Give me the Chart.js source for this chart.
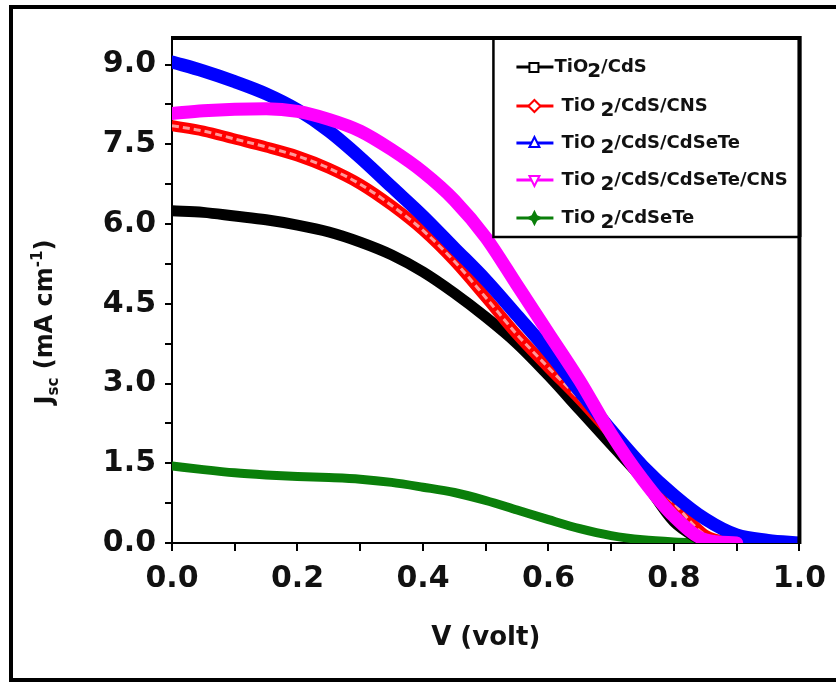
<!DOCTYPE html>
<html>
<head>
<meta charset="utf-8">
<script src="https://cdn.jsdelivr.net/npm/chart.js@4.4.1/dist/chart.umd.min.js"></script>
<style>
  html, body { margin: 0; padding: 0; background: #fff; overflow: hidden; }
  canvas { display: block; }
</style>
</head>
<body>
<canvas id="jv" width="836" height="682"></canvas>
<script>
// Applied voltage (V)
const voltage = [0.00, 0.05, 0.10, 0.15, 0.20, 0.25, 0.30, 0.35, 0.40, 0.45, 0.50,
                 0.55, 0.60, 0.65, 0.70, 0.75, 0.80, 0.85, 0.90, 0.95, 1.00];

// Current density (mA cm-1) for each photoanode
const jCdS        = [6.25, 6.22, 6.15, 6.08, 5.98, 5.85, 5.66, 5.42, 5.10, 4.70, 4.25,
                     3.75, 3.15, 2.50, 1.85, 1.20, 0.40, 0.00, null, null, null];
const jCdSCNS     = [7.85, 7.75, 7.60, 7.45, 7.28, 7.05, 6.75, 6.35, 5.88, 5.30, 4.62,
                     3.92, 3.30, 2.70, 2.05, 1.40, 0.75, 0.15, 0.00, null, null];
const jCdSCdSeTe  = [9.05, 8.88, 8.68, 8.45, 8.15, 7.75, 7.25, 6.70, 6.15, 5.55, 4.95,
                     4.28, 3.60, 2.85, 2.12, 1.45, 0.90, 0.45, 0.15, 0.05, 0.00];
const jCdSCdSeTeCNS = [8.08, 8.13, 8.16, 8.17, 8.12, 7.97, 7.75, 7.40, 6.98, 6.45, 5.75,
                     4.85, 3.95, 3.05, 2.05, 1.20, 0.50, 0.06, 0.00, null, null];
const jCdSeTe     = [1.45, 1.38, 1.32, 1.28, 1.25, 1.23, 1.20, 1.14, 1.05, 0.95, 0.80,
                     0.62, 0.44, 0.27, 0.14, 0.06, 0.02, 0.00, null, null, null];

// Legend names: [prefix, subscript, rest]
const seriesNames = [
  ['TiO', '2', '/CdS'],
  ['TiO ', '2', '/CdS/CNS'],
  ['TiO ', '2', '/CdS/CdSeTe'],
  ['TiO ', '2', '/CdS/CdSeTe/CNS'],
  ['TiO ', '2', '/CdSeTe']
];
const seriesColors = ['#000000', '#ff0000', '#0000ff', '#ff00ff', '#0a7f0a'];
const seriesMarkers = ['square', 'diamond', 'triangle', 'invTriangle', 'star'];

const xTicks = [0.0, 0.2, 0.4, 0.6, 0.8, 1.0];
const yTicks = [0.0, 1.5, 3.0, 4.5, 6.0, 7.5, 9.0];

const pts = (arr) => voltage.map((v, i) => ({ x: v, y: arr[i] }));

const FONT = "'DejaVu Sans', sans-serif";

function lineSet(label, arr, color, width, order) {
  return {
    label, data: pts(arr), borderColor: color, backgroundColor: color,
    borderWidth: width, pointRadius: 0, cubicInterpolationMode: 'monotone',
    borderCapStyle: 'round', borderJoinStyle: 'round', clip: 0, order, spanGaps: false
  };
}

const datasets = [
  lineSet('TiO2/CdS', jCdS, seriesColors[0], 11, 3),
  lineSet('TiO2/CdS/CNS', jCdSCNS, seriesColors[1], 11, 2),
  lineSet('TiO2/CdS/CdSeTe', jCdSCdSeTe, seriesColors[2], 13, 1),
  lineSet('TiO2/CdS/CdSeTe/CNS', jCdSCdSeTeCNS, seriesColors[3], 13, 0),
  lineSet('TiO2/CdSeTe', jCdSeTe, seriesColors[4], 9, 4)
];
// hollow-marker core of the CNS trace
const core = lineSet('', jCdSCNS, 'rgba(255,255,255,0.6)', 3, 1.5);
core.borderDash = [7, 4];
core.borderCapStyle = 'butt';
datasets.push(core);

function drawMarker(ctx, type, x, y, color) {
  ctx.save();
  ctx.lineWidth = 2;
  ctx.strokeStyle = color;
  ctx.fillStyle = '#fff';
  ctx.beginPath();
  const r = 5;
  if (type === 'square') {
    ctx.rect(x - r, y - r + 1, 2 * r - 1, 2 * r - 1);
  } else if (type === 'diamond') {
    ctx.moveTo(x, y - r - 1); ctx.lineTo(x + r + 1, y); ctx.lineTo(x, y + r + 1); ctx.lineTo(x - r - 1, y); ctx.closePath();
  } else if (type === 'triangle') {
    ctx.moveTo(x, y - r - 1); ctx.lineTo(x + r, y + r - 1); ctx.lineTo(x - r, y + r - 1); ctx.closePath();
  } else if (type === 'invTriangle') {
    ctx.moveTo(x, y + r + 1); ctx.lineTo(x + r, y - r + 1); ctx.lineTo(x - r, y - r + 1); ctx.closePath();
  } else {
    ctx.fillStyle = color;
    ctx.moveTo(x, y - r - 1); ctx.lineTo(x + 2, y - 2); ctx.lineTo(x + r + 1, y); ctx.lineTo(x + 2, y + 2);
    ctx.lineTo(x, y + r + 1); ctx.lineTo(x - 2, y + 2); ctx.lineTo(x - r - 1, y); ctx.lineTo(x - 2, y - 2); ctx.closePath();
  }
  ctx.fill();
  ctx.stroke();
  ctx.restore();
}

const decorations = {
  id: 'decorations',
  beforeDraw(chart) {
    const ctx = chart.ctx;
    ctx.save();
    ctx.fillStyle = '#fff';
    ctx.fillRect(0, 0, chart.width, chart.height);
    ctx.restore();
  },
  afterDraw(chart) {
    const ctx = chart.ctx;
    const a = chart.chartArea;
    ctx.save();

    // heavy top/right edges of the plot box
    ctx.strokeStyle = '#000';
    ctx.lineWidth = 4;
    ctx.beginPath();
    ctx.moveTo(a.left - 1, a.top);
    ctx.lineTo(a.right, a.top);
    ctx.lineTo(a.right, a.bottom + 1);
    ctx.stroke();

    // outer figure frame (open on the right)
    ctx.lineWidth = 4;
    ctx.beginPath();
    ctx.moveTo(chart.width + 5, 7);
    ctx.lineTo(11, 7);
    ctx.lineTo(11, 680);
    ctx.lineTo(chart.width + 5, 680);
    ctx.stroke();

    // legend box
    const lw = 306, lh = 199;
    const lx = a.right - lw, ly = a.top;
    ctx.fillStyle = '#fff';
    ctx.fillRect(lx, ly, lw, lh);
    ctx.lineWidth = 2.5;
    ctx.strokeRect(lx, ly, lw, lh);
    ctx.lineWidth = 4;
    ctx.beginPath();
    ctx.moveTo(lx, a.top); ctx.lineTo(a.right, a.top); ctx.lineTo(a.right, ly + lh);
    ctx.stroke();

    const rowY = [67, 106, 143, 180, 218].map(v => v - 38 + ly);
    seriesNames.forEach((parts, i) => {
      const y = rowY[i];
      const c = seriesColors[i];
      ctx.strokeStyle = c;
      ctx.lineWidth = 3;
      ctx.beginPath();
      ctx.moveTo(lx + 23, y); ctx.lineTo(lx + 60, y);
      ctx.stroke();
      drawMarker(ctx, seriesMarkers[i], lx + 41, y, c);

      ctx.fillStyle = '#111';
      ctx.textBaseline = 'middle';
      ctx.textAlign = 'left';
      ctx.font = 'bold 18px ' + FONT;
      let x = lx + (i === 0 ? 61 : 68);
      ctx.fillText(parts[0], x, y);
      x += ctx.measureText(parts[0]).width;
      ctx.font = 'bold 20px ' + FONT;
      ctx.fillText(parts[1], x - 1, y + 5);
      x += ctx.measureText(parts[1]).width - 1;
      ctx.font = 'bold 18px ' + FONT;
      ctx.fillText(parts[2], x, y);
    });

    // x-axis title
    ctx.fillStyle = '#111';
    ctx.font = 'bold 26px ' + FONT;
    ctx.textAlign = 'center';
    ctx.textBaseline = 'middle';
    ctx.fillText('V (volt)', (a.left + a.right) / 2, 638);

    // y-axis title, rotated, with sub/superscripts
    const segs = [
      { t: 'J', s: 24, dy: 0 },
      { t: 'sc', s: 15, dy: 6 },
      { t: ' (mA cm', s: 24, dy: 0 },
      { t: '-1', s: 15, dy: -10 },
      { t: ')', s: 24, dy: 0 }
    ];
    let total = 0;
    segs.forEach(sg => { ctx.font = 'bold ' + sg.s + 'px ' + FONT; sg.w = ctx.measureText(sg.t).width; total += sg.w; });
    ctx.translate(52, 322);
    ctx.rotate(-Math.PI / 2);
    ctx.textAlign = 'left';
    ctx.textBaseline = 'alphabetic';
    let cx = -total / 2;
    segs.forEach(sg => {
      ctx.font = 'bold ' + sg.s + 'px ' + FONT;
      ctx.fillText(sg.t, cx, sg.dy);
      cx += sg.w;
    });
    ctx.restore();
  }
};

const near = (v, list) => list.some(t => Math.abs(v - t) < 1e-6);

new Chart(document.getElementById('jv'), {
  type: 'line',
  data: { datasets },
  options: {
    responsive: false,
    animation: false,
    devicePixelRatio: 1,
    layout: { padding: { top: 38, right: 34, left: 0, bottom: 0 } },
    plugins: { legend: { display: false }, tooltip: { enabled: false } },
    scales: {
      x: {
        type: 'linear', min: 0, max: 1,
        afterFit(s) { s.height = 139; },
        border: { display: true, color: '#000', width: 2 },
        grid: { display: true, drawOnChartArea: false, drawTicks: true, tickLength: 8, color: '#000', lineWidth: 2 },
        ticks: {
          stepSize: 0.1, autoSkip: false, maxRotation: 0, includeBounds: false,
          padding: 10, color: '#111', font: { family: FONT, weight: 'bold', size: 30 },
          callback: (v) => near(v, xTicks) ? v.toFixed(1) : ''
        }
      },
      y: {
        type: 'linear', min: 0, max: 9.5,
        afterFit(s) { s.width = 172; },
        border: { display: true, color: '#000', width: 2 },
        grid: { display: true, drawOnChartArea: false, drawTicks: true, tickLength: 7, color: '#000', lineWidth: 2 },
        ticks: {
          stepSize: 0.75, autoSkip: false, includeBounds: false,
          padding: 9, color: '#111', font: { family: FONT, weight: 'bold', size: 30 },
          callback: (v) => near(v, yTicks) ? v.toFixed(1) : ''
        }
      }
    }
  },
  plugins: [decorations]
});
</script>
</body>
</html>
